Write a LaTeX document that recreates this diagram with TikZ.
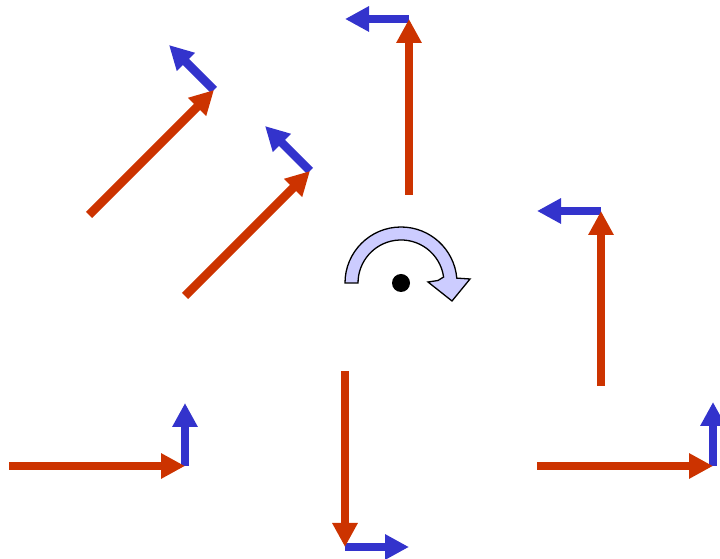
\documentclass[tikz,border=0pt]{standalone}
\usetikzlibrary{arrows.meta}
\definecolor{vred}{RGB}{204,51,0}
\definecolor{vblue}{RGB}{51,51,204}
\definecolor{lav}{RGB}{204,204,255}
\tikzset{
  vec/.style={line width=8.5pt, -{Triangle[length=24pt,width=24pt]}},
  redvec/.style={vec, draw=vred},
  bluevec/.style={vec, draw=vblue},
}
\begin{document}
\begin{tikzpicture}[x=1pt,y=1pt]
\useasboundingbox (0,0) rectangle (720,559);
% A (top)
\coordinate (a0) at (409,364); \coordinate (a1) at (409,540); \coordinate (a2) at (345,540);
\draw[bluevec] (a1) -- (a2);
\draw[redvec] (a0) -- (a1);
% B (upper diagonal)
\coordinate (b0) at (89,344); \coordinate (b1) at (214,469); \coordinate (b2) at (169,514);
\draw[bluevec] (b1) -- (b2);
\draw[redvec] (b0) -- (b1);
% C (lower diagonal)
\coordinate (c0) at (185,263); \coordinate (c1) at (310,388); \coordinate (c2) at (265,433);
\draw[bluevec] (c1) -- (c2);
\draw[redvec] (c0) -- (c1);
% D (bottom left)
\coordinate (d0) at (9,93); \coordinate (d1) at (185,93); \coordinate (d2) at (185,156);
\draw[bluevec] (d1) -- (d2);
\draw[redvec] (d0) -- (d1);
% E (bottom centre)
\coordinate (e0) at (345,188); \coordinate (e1) at (345,12); \coordinate (e2) at (409,12);
\draw[bluevec] (e1) -- (e2);
\draw[redvec] (e0) -- (e1);
% F (right middle)
\coordinate (f0) at (601,173); \coordinate (f1) at (601,348); \coordinate (f2) at (537,348);
\draw[bluevec] (f1) -- (f2);
\draw[redvec] (f0) -- (f1);
% G (bottom right)
\coordinate (g0) at (537,93); \coordinate (g1) at (713,93); \coordinate (g2) at (713,157);
\draw[bluevec] (g1) -- (g2);
\draw[redvec] (g0) -- (g1);
% rotation arrow
\draw[fill=lav, line width=1.3pt, line join=miter]
  (345,276) arc[start angle=180, end angle=5, radius=56]
  -- (470,280) -- (452,258) -- (428,277) -- (438,278.5)
  -- (443.6,282) arc[start angle=8, end angle=180, radius=43] -- cycle;
\fill (401,276) circle[radius=9];
\end{tikzpicture}
\end{document}
